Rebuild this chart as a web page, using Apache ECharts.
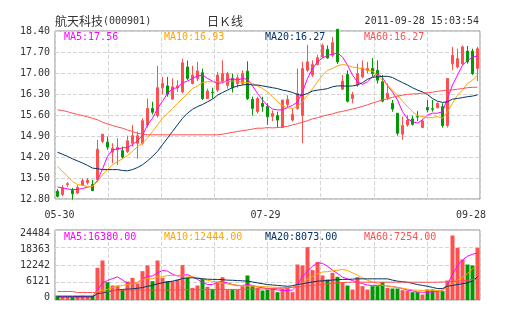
<!DOCTYPE html>
<html>
<head>
<meta charset="utf-8">
<script src="https://cdn.jsdelivr.net/npm/echarts@6/dist/echarts.min.js"></script>
<style>
html,body{margin:0;padding:0;background:#fff;}
#chart{width:505px;height:330px;}
</style>
</head>
<body>
<div id="chart"></div>
<script>
// 航天科技 (000901) daily candles, 2011-05-30 .. 2011-09-28
const dates = [
 '05-30','05-31','06-01','06-02','06-03','06-07','06-08','06-09','06-10','06-13',
 '06-14','06-15','06-16','06-17','06-20','06-21','06-22','06-23','06-24','06-27',
 '06-28','06-29','06-30','07-01','07-04','07-05','07-06','07-07','07-08','07-11',
 '07-12','07-13','07-14','07-15','07-18','07-19','07-20','07-21','07-22','07-25',
 '07-26','07-28','07-29','08-01','08-02','08-03','08-04','08-05','08-08','08-09',
 '08-10','08-11','08-12','08-15','08-16','08-17','08-18','08-19','08-22','08-23',
 '08-24','08-25','08-26','08-29','08-30','08-31','09-01','09-02','09-05','09-06',
 '09-07','09-08','09-09','09-13','09-14','09-15','09-16','09-19','09-20','09-21',
 '09-22','09-23','09-26','09-27','09-28'
];
// open, close, low, high
const opens = [13.06,12.95,13.28,13.09,13.00,13.26,13.35,13.28,13.45,14.72,14.69,14.36,14.44,14.41,14.38,14.66,14.66,14.66,15.27,15.82,15.58,16.51,16.57,16.13,16.51,16.37,17.20,16.65,16.82,17.01,16.15,16.36,16.43,16.71,16.59,16.82,16.65,16.65,17.06,16.12,15.71,15.99,15.88,15.55,15.58,15.18,15.95,15.43,15.82,15.58,17.09,16.93,17.28,17.53,17.79,17.59,18.46,16.46,16.95,16.15,16.60,16.87,17.08,17.15,17.09,16.71,16.17,15.99,15.66,14.96,15.27,15.47,15.55,15.18,15.85,15.81,15.84,15.88,15.25,17.31,17.20,17.31,17.73,17.73,17.15];
const closes = [12.89,13.17,13.31,12.98,13.19,13.41,13.43,13.08,14.46,14.96,14.53,14.49,14.52,14.20,14.74,14.91,14.91,15.41,15.82,15.69,16.51,16.65,16.29,16.54,16.57,17.34,16.82,16.93,17.07,16.15,16.40,16.34,16.93,16.98,16.98,16.51,16.84,16.98,16.15,15.82,16.15,15.88,15.54,15.65,15.43,16.10,16.12,15.62,16.32,17.15,17.37,17.28,17.51,17.92,17.50,18.01,17.37,16.73,16.06,16.28,16.98,17.17,17.15,16.98,16.76,16.06,16.32,15.80,14.99,15.25,15.43,15.29,15.53,15.40,15.77,15.79,15.99,15.25,16.82,17.59,17.48,17.87,17.37,16.98,17.81];
const lows = [12.85,12.89,13.19,12.78,12.97,13.23,13.28,13.06,13.37,14.66,14.44,13.99,13.94,14.14,14.33,14.55,14.14,14.61,15.18,15.62,15.51,16.29,16.21,16.10,16.37,16.32,16.76,16.62,16.73,16.10,16.13,16.15,16.37,16.65,16.48,16.35,16.51,16.59,16.10,15.58,15.65,15.71,15.27,15.40,15.18,15.18,15.82,15.38,15.77,14.66,17.04,16.87,17.26,17.50,17.48,17.53,17.30,16.43,16.02,15.99,16.54,16.82,16.98,16.87,16.65,16.02,16.10,15.71,14.91,14.77,15.21,15.25,15.40,15.16,15.69,15.71,15.82,15.18,15.18,17.09,17.15,17.26,17.31,16.93,16.73];
const highs = [13.13,13.26,13.36,13.17,13.26,13.48,13.50,13.44,14.77,14.96,14.88,14.66,14.83,14.55,14.91,15.27,15.05,15.49,16.15,16.04,17.24,16.87,16.87,16.82,16.76,17.48,17.42,17.24,17.37,17.15,16.48,16.51,17.04,17.42,17.04,16.98,16.95,17.09,17.39,16.21,16.21,16.21,15.99,15.75,15.71,16.10,16.26,15.82,17.15,17.37,17.94,17.42,17.61,17.98,17.92,18.20,18.46,16.93,17.09,16.37,17.31,17.42,17.37,17.50,17.42,16.93,16.65,16.10,15.66,15.55,15.60,15.58,15.73,15.47,16.10,16.10,16.02,15.99,16.82,17.87,17.81,17.92,17.90,17.81,17.87];

const ma5 = [13.20,13.17,13.14,13.11,13.12,13.15,13.20,13.22,13.42,13.80,14.22,14.44,14.47,14.50,14.52,14.61,14.74,14.92,15.27,15.49,15.82,16.06,16.32,16.48,16.51,16.67,16.73,16.82,16.90,16.93,16.82,16.73,16.65,16.68,16.76,16.82,16.76,16.82,16.79,16.57,16.32,16.10,15.92,15.80,15.77,15.77,15.85,15.92,16.04,16.37,16.82,17.15,17.37,17.50,17.59,17.62,17.67,17.53,17.26,16.93,16.71,16.62,16.71,16.87,16.98,16.85,16.57,16.37,16.10,15.71,15.47,15.38,15.33,15.44,15.60,15.66,15.66,15.71,16.15,16.60,16.93,17.26,17.42,17.53,17.56];
const ma10 = [13.89,13.72,13.56,13.39,13.28,13.26,13.22,13.22,13.39,13.61,13.78,13.94,14.05,14.14,14.25,14.39,14.55,14.66,14.83,15.05,15.27,15.49,15.66,15.82,15.99,16.15,16.32,16.48,16.57,16.68,16.71,16.71,16.71,16.71,16.71,16.73,16.73,16.68,16.68,16.65,16.57,16.48,16.37,16.21,16.04,15.91,15.84,15.82,15.88,16.04,16.26,16.48,16.71,16.93,17.09,17.15,17.24,17.28,17.26,17.20,17.17,17.15,17.09,17.06,16.93,16.76,16.60,16.43,16.26,16.06,15.88,15.71,15.58,15.55,15.51,15.51,15.55,15.49,15.71,15.99,16.26,16.43,16.65,16.76,16.93];
const ma20 = [14.36,14.29,14.22,14.14,14.07,14.00,13.92,13.83,13.81,13.78,13.78,13.78,13.78,13.75,13.74,13.78,13.85,13.94,14.07,14.22,14.39,14.61,14.83,15.05,15.27,15.49,15.66,15.79,15.88,15.95,16.04,16.13,16.26,16.35,16.43,16.51,16.57,16.60,16.62,16.60,16.60,16.57,16.54,16.51,16.48,16.43,16.40,16.35,16.28,16.26,16.32,16.40,16.43,16.45,16.48,16.54,16.57,16.57,16.56,16.57,16.60,16.68,16.79,16.86,16.87,16.89,16.89,16.85,16.76,16.68,16.60,16.51,16.43,16.37,16.28,16.15,16.06,16.02,16.04,16.13,16.15,16.18,16.21,16.23,16.27];
const ma60 = [15.77,15.75,15.71,15.66,15.62,15.58,15.54,15.49,15.44,15.36,15.30,15.25,15.20,15.16,15.10,15.05,14.99,14.96,14.94,14.94,14.94,14.94,14.94,14.94,14.94,14.94,14.94,14.94,14.94,14.94,14.94,14.94,14.94,14.96,14.99,15.02,15.05,15.08,15.10,15.13,15.16,15.16,15.18,15.17,15.18,15.20,15.22,15.27,15.31,15.36,15.41,15.47,15.51,15.56,15.60,15.64,15.69,15.72,15.76,15.80,15.84,15.89,15.94,16.00,16.05,16.10,16.14,16.19,16.23,16.26,16.29,16.30,16.31,16.33,16.34,16.36,16.39,16.41,16.43,16.44,16.46,16.48,16.51,16.52,16.53];

const volumes = [1574,1108,1108,991,1341,1807,1341,1574,11252,13817,6238,5072,5072,3673,6471,7754,5772,10086,12068,6588,13817,7754,6588,6588,7171,12185,7754,4256,5072,7404,4606,3906,6005,7987,3673,3673,3673,4839,8570,4839,4256,3323,3673,4256,2740,3906,4256,2740,12418,12068,18481,10436,13234,8570,7171,9503,8104,6238,5072,3673,7987,4839,3673,4839,4839,6238,4256,4023,4023,3440,3323,2740,2740,1924,3673,3673,3090,3090,6821,22563,18248,14166,12418,12068,18248];
const volMa5 = [1300,1300,1300,1250,1250,1300,1350,1350,3500,6000,6800,7500,8100,7000,5800,5800,6100,7400,8300,8400,9500,10300,10100,9000,8400,8600,8900,8100,7200,6200,5400,5400,6300,6400,6000,5400,5000,5100,5400,5100,4600,4300,4000,3800,3500,3400,3300,3500,5200,8300,10100,11800,13000,12800,11800,10400,9300,8000,7400,6800,6200,5700,5200,5100,5100,5100,4900,4700,4400,4000,3500,3200,2800,2700,2700,2800,3000,3400,5500,9000,12000,14000,15300,16000,16380];
const volMa10 = [1570,1570,1570,1570,1570,1570,1570,1570,3100,3400,3700,4300,4800,5100,5400,5800,6200,7200,7500,7400,8100,8100,8600,8600,8600,8700,8400,8100,7800,7400,6900,6500,6300,6000,5600,5300,5200,5000,4900,4800,4800,4700,4600,4500,4400,4300,4300,4500,5100,6000,7200,8200,9200,9800,9900,10200,10400,10700,10300,9500,8700,7700,6900,6300,5700,5200,4900,4600,4400,4100,3800,3600,3400,3350,3300,3300,3300,3400,4500,5800,7000,8000,9200,10900,12444];
const volMa20 = [1100,1100,1100,1100,1100,1100,1100,1100,2270,2500,2750,3300,3450,3700,3800,3900,4100,4350,4800,5100,5650,6000,6350,6600,6950,7500,7750,7750,7600,7400,7300,7200,7200,7100,6950,6900,6800,6700,6600,6300,6000,5700,5400,5250,5100,4950,4800,5000,5400,5700,6000,6300,6600,6700,6800,7000,7100,7200,7200,7300,7400,7400,7400,7400,7400,7400,7400,6950,6600,6400,6200,5800,5400,5100,4800,4400,4000,4000,4800,5100,5400,5700,6000,6700,8073];
const volMa60 = [2970,2970,2970,2970,2620,2620,2620,2620,2700,2800,2900,3300,3350,3400,3450,3450,3450,3450,3450,3450,3450,3500,3500,3550,3550,3600,3600,3600,3650,3650,3650,3650,3700,3700,3700,3700,3700,3750,3750,3800,3800,3850,3900,3950,4050,4150,4250,4450,4700,4850,5000,5150,5300,5450,5600,5800,6000,6100,6200,6240,6240,6240,6240,6240,6240,6240,6240,6240,6240,6240,6240,6240,6240,6200,6200,6200,6240,6300,6400,6470,6600,6750,6900,7100,7254];

// indicator readouts shown in the panel headers
const priceMaText = ['17.56', '16.93', '16.27', '16.27'];
const volMaText = ['16380.00', '12444.00', '8073.00', '7254.00'];
const maNames = ['MA5', 'MA10', 'MA20', 'MA60'];
const maColors = ['#ff00ff', '#ffa500', '#003366', '#ff4f4f'];

const priceTicks = { min: 12.80, max: 18.40, step: 0.70 };
const volTicks = { min: 0, max: 24484, step: 6121 };
const axisDates = { first: 0, middle: 42, last: 84 };

const UP = '#ff5050', DOWN = '#009900';
const MONO = 'DejaVu Sans Mono';
const CJK = 'Noto Sans CJK SC';

const kData = opens.map((o, i) => [o, closes[i], lows[i], highs[i]]);
const volData = volumes.map((v, i) => ({
  value: v,
  itemStyle: { color: closes[i] >= opens[i] ? UP : DOWN }
}));

const dash = { color: '#d4d4d4', type: [4, 2], width: 1 };

const chart = echarts.init(document.getElementById('chart'), null, { renderer: 'canvas' });

function maLine(name, data, color, xi, yi) {
  return {
    name, type: 'line', data, xAxisIndex: xi, yAxisIndex: yi,
    symbol: 'none', smooth: false, silent: true,
    lineStyle: { color, width: 1 }, z: 3
  };
}

function legendRow(values, y) {
  const xs = [64, 164, 265, 364];
  return maNames.map((n, i) => ({
    type: 'text', left: xs[i], top: y,
    style: { text: n + ':' + values[i], fill: maColors[i], font: '10px "' + MONO + '"' },
    z: 10
  }));
}

const volPads = { 24484: [6, 0, 0, 0], 18363: [4, 0, 0, 0], 6121: [0, 0, 3, 0], 0: [0, 0, 6, 0] };
const dateLabelStyle = (pad) => ({ padding: pad, fontFamily: MONO, fontSize: 10, color: '#333' });

chart.setOption({
  animation: false,
  grid: [
    { left: 55, top: 31, width: 425, height: 168, show: true, borderColor: '#8c8c8c', borderWidth: 1, backgroundColor: '#fff' },
    { left: 55, top: 230, width: 425, height: 70, show: true, borderColor: '#8c8c8c', borderWidth: 1, backgroundColor: '#fff' }
  ],
  xAxis: [
    {
      type: 'category', gridIndex: 0, data: dates, boundaryGap: true,
      axisLine: { show: false }, axisTick: { show: false }, splitLine: { show: false },
      axisLabel: {
        interval: (i) => i === axisDates.first || i === axisDates.middle || i === axisDates.last,
        margin: 11, showMinLabel: true, showMaxLabel: true,
        formatter: (v, i) => (i === axisDates.first ? '{f|' : i === axisDates.last ? '{l|' : '{m|') + v + '}',
        rich: {
          f: dateLabelStyle([0, 0, 0, 4]),
          m: dateLabelStyle([0, 4, 0, 0]),
          l: dateLabelStyle([0, 13, 0, 0])
        }
      }
    },
    {
      type: 'category', gridIndex: 1, data: dates, boundaryGap: true,
      axisLine: { show: false }, axisTick: { show: false }, axisLabel: { show: false }, splitLine: { show: false }
    },
    { type: 'value', gridIndex: 0, min: 0, max: 8, interval: 1, axisLine: { show: false }, axisTick: { show: false }, axisLabel: { show: false }, splitLine: { show: true, lineStyle: dash } },
    { type: 'value', gridIndex: 1, min: 0, max: 8, interval: 1, axisLine: { show: false }, axisTick: { show: false }, axisLabel: { show: false }, splitLine: { show: true, lineStyle: dash } }
  ],
  yAxis: [
    {
      type: 'value', gridIndex: 0, min: priceTicks.min, max: priceTicks.max, interval: priceTicks.step,
      axisLine: { show: false }, axisTick: { show: false },
      splitLine: { show: true, lineStyle: dash },
      axisLabel: { color: '#333', fontFamily: MONO, fontSize: 10, margin: 5, formatter: (v) => v.toFixed(2) }
    },
    {
      type: 'value', gridIndex: 1, min: volTicks.min, max: volTicks.max, interval: volTicks.step,
      axisLine: { show: false }, axisTick: { show: false },
      splitLine: { show: true, lineStyle: dash },
      axisLabel: {
        color: '#333', fontFamily: MONO, fontSize: 10, margin: 5,
        formatter: (v) => '{p' + Math.round(v) + '|' + Math.round(v) + '}',
        rich: Object.fromEntries([0, 6121, 12242, 18363, 24484].map(v => ['p' + v, {
          padding: volPads[v] || [0, 0, 0, 0], fontFamily: MONO, fontSize: 10, color: '#333'
        }]))
      }
    }
  ],
  series: [
    {
      type: 'candlestick', name: '日K', xAxisIndex: 0, yAxisIndex: 0, data: kData,
      barWidth: 3, clip: false, z: 2,
      itemStyle: { color: UP, color0: DOWN, borderColor: UP, borderColor0: DOWN, borderWidth: 1 }
    },
    maLine('MA5', ma5, maColors[0], 0, 0),
    maLine('MA10', ma10, maColors[1], 0, 0),
    maLine('MA20', ma20, maColors[2], 0, 0),
    maLine('MA60', ma60, maColors[3], 0, 0),
    {
      type: 'bar', name: 'VOL', xAxisIndex: 1, yAxisIndex: 1, data: volData,
      barWidth: 4, z: 2
    },
    maLine('VMA5', volMa5, maColors[0], 1, 1),
    maLine('VMA10', volMa10, maColors[1], 1, 1),
    maLine('VMA20', volMa20, maColors[2], 1, 1),
    maLine('VMA60', volMa60, maColors[3], 1, 1)
  ],
  graphic: [
    {
      type: 'text', left: 55, top: 15,
      style: {
        text: '{a|航天科技}{b|(000901)}',
        rich: {
          a: { font: '12px "' + CJK + '"', fill: '#333' },
          b: { font: '10px "' + MONO + '"', fill: '#333' }
        }
      }
    },
    { type: 'text', left: 207, top: 15, style: { text: '日Ｋ线', font: '12px "' + CJK + '"', fill: '#333' } },
    { type: 'text', right: 26, top: 16, style: { text: '2011-09-28 15:03:54', font: '10px "' + MONO + '"', fill: '#333' } }
  ].concat(legendRow(priceMaText, 32), legendRow(volMaText, 232))
});
</script>
</body>
</html>
